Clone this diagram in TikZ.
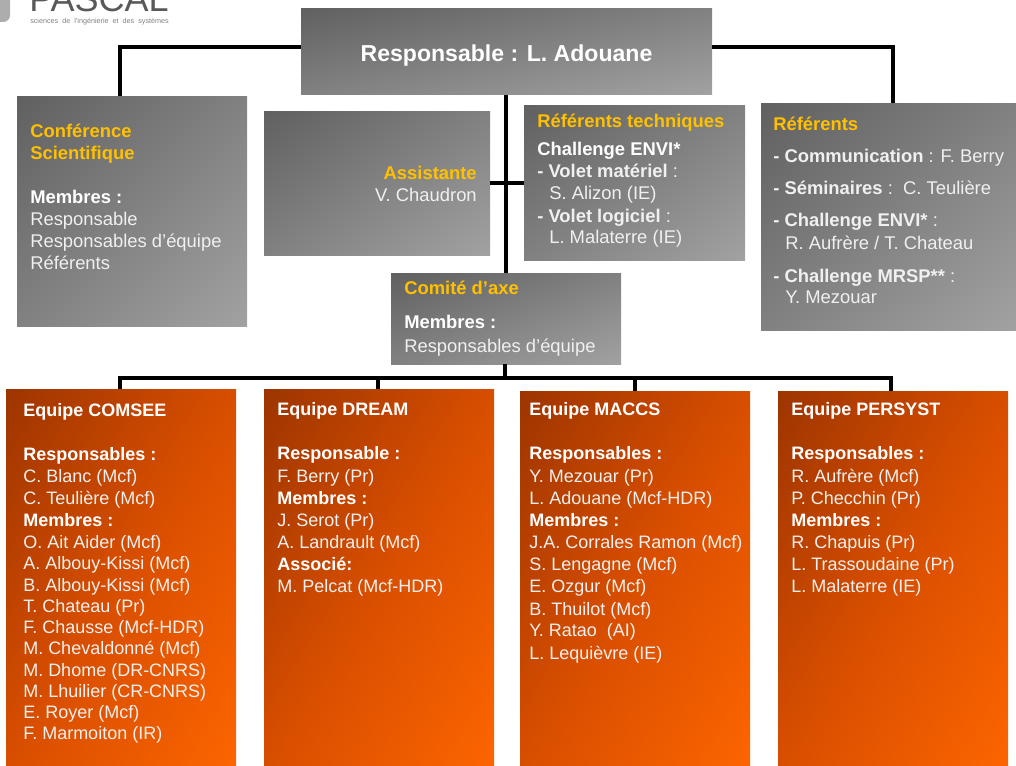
\documentclass[tikz,border=0pt]{standalone}
\usepackage{fontspec}
\setmainfont{Liberation Sans}
\usetikzlibrary{fit,calc}
\definecolor{gold}{HTML}{FFC000}
\definecolor{grayA}{HTML}{5E5E5E}
\definecolor{grayB}{HTML}{A4A4A4}
\definecolor{orA}{HTML}{993300}
\definecolor{orM}{HTML}{D84E00}
\definecolor{orB}{HTML}{FF6600}
\definecolor{bodytxt}{HTML}{F0F0F0}
\pgfdeclareverticalshading{grayramp}{100bp}{color(0bp)=(grayB); color(12bp)=(grayB); color(88bp)=(grayA); color(100bp)=(grayA)}
\pgfdeclareverticalshading{orramp}{100bp}{color(0bp)=(orB); color(12bp)=(orB); color(50bp)=(orM); color(88bp)=(orA); color(100bp)=(orA)}
\newcommand{\boxat}[6]{% name, style, x1,y1,x2,y2
  \pgfmathsetmacro{\boxsx}{(#5-#3)/100}
  \pgfmathsetmacro{\boxsy}{(#6-#4)/100}
  \path[#2,transform canvas={shift={(#3,#4)},xscale=\boxsx,yscale=\boxsy}] (0,0) rectangle (100,100);
  \coordinate (#1 nw) at (#3,#4);
  \coordinate (#1 se) at (#5,#6);
  \node[inner sep=0pt,minimum width=0pt,minimum height=0pt,fit=(#1 nw)(#1 se)] (#1) {};}
\tikzset{
  x=0.75pt,y=-0.75pt,
  graybox/.style={shade,shading=grayramp,shading angle=45,draw=none},
  orbox/.style={shade,shading=orramp,shading angle=45,draw=none},
  conn/.style={draw=black,line width=3pt,line join=miter},
  txt/.style={anchor=base west,inner sep=0pt,text=bodytxt,font=\fontsize{13.8}{13.8}\selectfont},
  btxt/.style={txt,text=white,font=\fontsize{13.8}{13.8}\selectfont\bfseries},
  head/.style={txt,text=gold,font=\fontsize{13.8}{13.8}\selectfont\bfseries},
  ttxt/.style={anchor=base west,inner sep=0pt,text=bodytxt,font=\fontsize{13.5}{13.5}\selectfont},
  tbtxt/.style={ttxt,text=white,font=\fontsize{13.5}{13.5}\selectfont\bfseries},
}
\begin{document}
\begin{tikzpicture}
\useasboundingbox (0,0) rectangle (1016,766);
\clip (0,0) rectangle (1016,766);
% boxes
\boxat{top}{graybox}{301}{8.3}{712}{95}
\boxat{conf}{graybox}{17}{96.3}{247}{326}
\boxat{asst}{graybox}{264}{111.3}{490}{256}
\boxat{tech}{graybox}{524}{105.3}{745}{261}
\boxat{refs}{graybox}{761}{103.3}{1016}{330}
\boxat{comite}{graybox}{391}{273.3}{621}{364}
\boxat{comsee}{orbox}{6}{389.3}{236}{765}
\boxat{dream}{orbox}{264}{389.3}{494}{765}
\boxat{maccs}{orbox}{520}{391.3}{750}{765}
\boxat{persyst}{orbox}{778}{391.3}{1008}{765}
\begin{scope}[yshift=-0.75pt]
% logo
\fill[black!32,rounded corners=5pt] (-10,-10) rectangle (10,21);
\node[anchor=base west,inner sep=0pt,text=black!65,font=\fontsize{27}{27}\selectfont] (logo) at (29,11) {PASCAL};
\node[anchor=base west,inner sep=0pt,text=black!50,font=\fontsize{5.4}{6}\selectfont] (logosub) at (30,23) {sciences\ \ de\ \ l’ingénierie\ \ et\ \ des\ \ systèmes};
% connectors
\coordinate (bus) at (506,377);
\draw[conn] (top.west|-0,46) -| (conf.north-|120,0);
\draw[conn] (top.east|-0,46) -| (refs.north-|893,0);
\draw[conn] (top.south-|506,0) -- (comite.north-|506,0);
\draw[conn] (asst.east|-0,182) -- (tech.west|-0,182);
\draw[conn] (comite.south-|505,0) -- (bus-|505,0);
\draw[conn] (comsee.north-|120,0) |- (bus);
\draw[conn] (persyst.north-|891,0) |- (bus);
\draw[conn] (dream.north-|378,0) -- (bus-|378,0);
\draw[conn] (maccs.north-|635,0) -- (bus-|635,0);
% top
\node[anchor=center,inner sep=0pt,text=white,font=\fontsize{17.3}{17.3}\selectfont\bfseries] (ttop) at (506.5,55) {Responsable : L. Adouane};
% conf
\node[head] (c1) at (30,137) {Conférence};
\node[head] (c2) at (30,159) {Scientifique};
\node[btxt] (c3) at (30,203) {Membres :};
\node[txt] (c4) at (30,225) {Responsable};
\node[txt] (c5) at (30,247) {Responsables d’équipe};
\node[txt] (c6) at (30,269) {Référents};
% asst
\node[head,anchor=base east] (a1) at (477,179) {Assistante};
\node[txt,anchor=base east] (a2) at (477,201) {V. Chaudron};
% tech
\node[head] (t1) at (537,127) {Référents techniques};
\node[btxt] (t2) at (537,155) {Challenge ENVI*};
\node[txt] (t3) at (537,177) {\textbf{- Volet matériel} :};
\node[txt] (t4) at (549,199) {S. Alizon (IE)};
\node[txt] (t5) at (537,222) {\textbf{- Volet logiciel} :};
\node[txt] (t6) at (549,243) {L. Malaterre (IE)};
% refs
\node[head] (r1) at (773,130) {Référents};
\node[txt] (r2) at (773,162) {\textbf{- Communication} : F. Berry};
\node[txt] (r3) at (773,194) {\textbf{- Séminaires} :\ \ C. Teulière};
\node[txt] (r4) at (773,226) {\textbf{- Challenge ENVI*} :};
\node[txt] (r5) at (785,249) {R. Aufrère / T. Chateau};
\node[txt] (r6) at (773,281) {\textbf{- Challenge MRSP**} :};
\node[txt] (r7) at (785,303) {Y. Mezouar};
% comite
\node[head] (m1) at (404,294) {Comité d'axe};
\node[btxt] (m2) at (404,328) {Membres :};
\node[txt] (m3) at (404,351) {Responsables d’équipe};
% COMSEE
\node[tbtxt] (e1) at (23,415) {Equipe COMSEE};
\node[tbtxt] (e2) at (23,459) {Responsables :};
\node[ttxt] (e3) at (23,481) {C. Blanc (Mcf)};
\node[ttxt] (e4) at (23,503) {C. Teulière (Mcf)};
\node[tbtxt] (e5) at (23,525) {Membres :};
\node[ttxt] (e6) at (23,547) {O. Ait Aider (Mcf)};
\node[ttxt] (e7) at (23,568) {A. Albouy-Kissi (Mcf)};
\node[ttxt] (e8) at (23,590) {B. Albouy-Kissi (Mcf)};
\node[ttxt] (e9) at (23,611) {T. Chateau (Pr)};
\node[ttxt] (e10) at (23,632) {F. Chausse (Mcf-HDR)};
\node[ttxt] (e11) at (23,653) {M. Chevaldonné (Mcf)};
\node[ttxt] (e12) at (23,675) {M. Dhome (DR-CNRS)};
\node[ttxt] (e13) at (23,696) {M. Lhuilier (CR-CNRS)};
\node[ttxt] (e14) at (23,717) {E. Royer (Mcf)};
\node[ttxt] (e15) at (23,738) {F. Marmoiton (IR)};
% DREAM
\node[tbtxt] (d1) at (277,414) {Equipe DREAM};
\node[tbtxt] (d2) at (277,458) {Responsable :};
\node[ttxt] (d3) at (277,481) {F. Berry (Pr)};
\node[tbtxt] (d4) at (277,503) {Membres :};
\node[ttxt] (d5) at (277,525) {J. Serot (Pr)};
\node[ttxt] (d6) at (277,547) {A. Landrault (Mcf)};
\node[tbtxt] (d7) at (277,569) {Associé:};
\node[ttxt] (d8) at (277,591) {M. Pelcat (Mcf-HDR)};
% MACCS
\node[tbtxt] (k1) at (529,414) {Equipe MACCS};
\node[tbtxt] (k2) at (529,458) {Responsables :};
\node[ttxt] (k3) at (529,481) {Y. Mezouar (Pr)};
\node[ttxt] (k4) at (529,503) {L. Adouane (Mcf-HDR)};
\node[tbtxt] (k5) at (529,525) {Membres :};
\node[ttxt] (k6) at (529,547) {J.A. Corrales Ramon (Mcf)};
\node[ttxt] (k7) at (529,569) {S. Lengagne (Mcf)};
\node[ttxt] (k8) at (529,591) {E. Ozgur (Mcf)};
\node[ttxt] (k9) at (529,614) {B. Thuilot (Mcf)};
\node[ttxt] (k10) at (529,635) {Y. Ratao\ \ (AI)};
\node[ttxt] (k11) at (529,658) {L. Lequièvre (IE)};
% PERSYST
\node[tbtxt] (p1) at (791,414) {Equipe PERSYST};
\node[tbtxt] (p2) at (791,458) {Responsables :};
\node[ttxt] (p3) at (791,481) {R. Aufrère (Mcf)};
\node[ttxt] (p4) at (791,503) {P. Checchin (Pr)};
\node[tbtxt] (p5) at (791,525) {Membres :};
\node[ttxt] (p6) at (791,547) {R. Chapuis (Pr)};
\node[ttxt] (p7) at (791,569) {L. Trassoudaine (Pr)};
\node[ttxt] (p8) at (791,591) {L. Malaterre (IE)};
\end{scope}
\end{tikzpicture}
\end{document}
